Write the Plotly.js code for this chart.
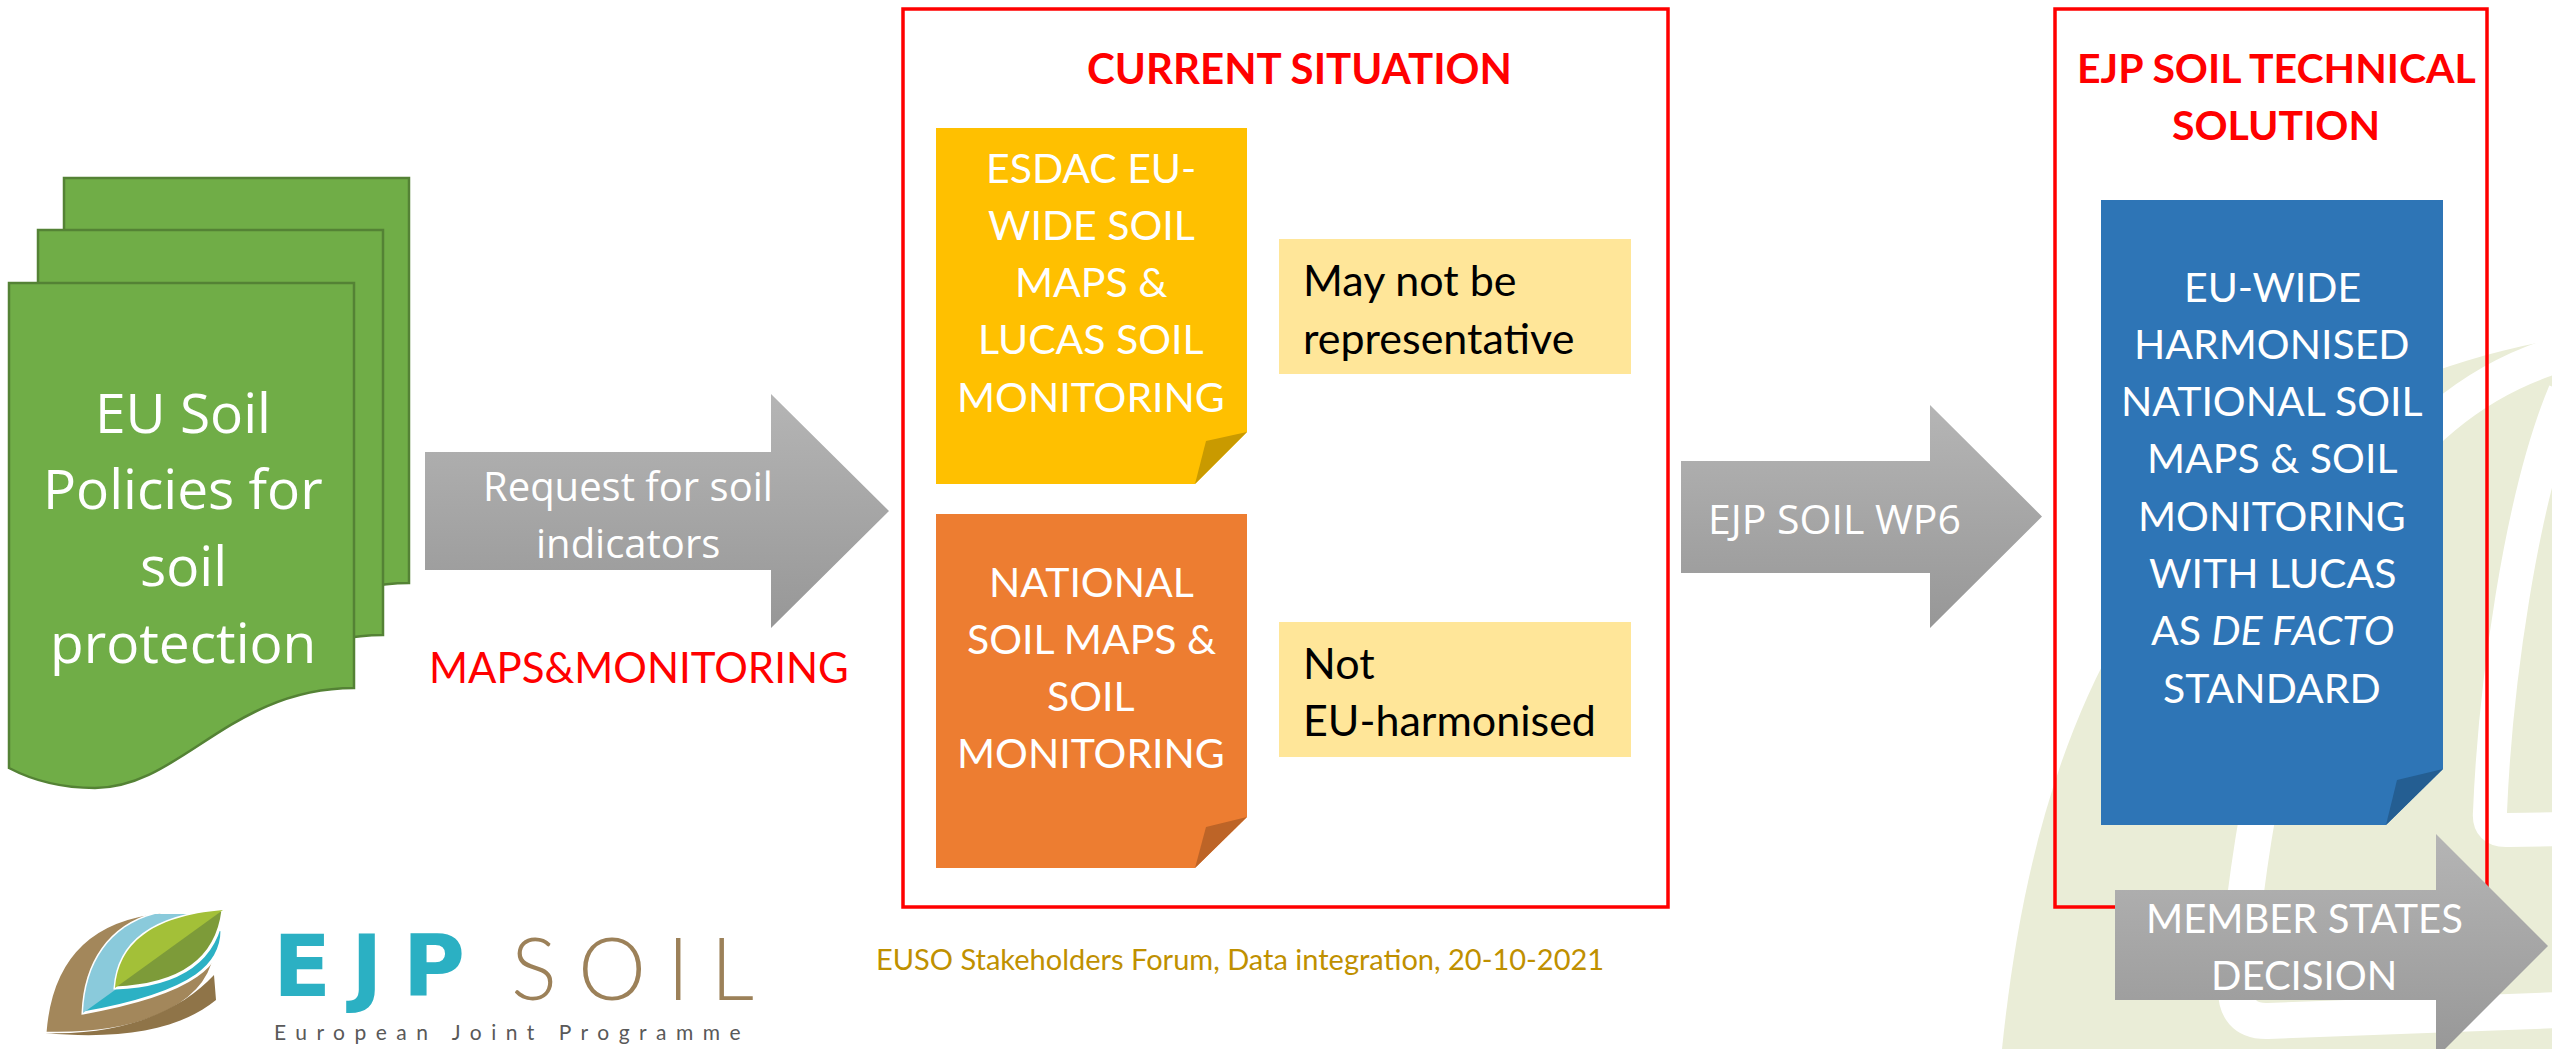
<!DOCTYPE html>
<html>
<head>
<meta charset="utf-8">
<script src="https://cdn.plot.ly/plotly-3.0.1.min.js"></script>
<style>
html,body{margin:0;padding:0;background:#ffffff;overflow:hidden;}
#chart{width:2552px;height:1049px;}
</style>
</head>
<body>
<div id="chart"></div>
<script>
// ---- Diagram texts ----
const docLines = ['EU Soil', 'Policies for', 'soil', 'protection'];
const requestLines = ['Request for soil', 'indicators'];
const mapsLabel = 'MAPS&MONITORING';
const currentTitle = 'CURRENT SITUATION';
const esdacLines = ['ESDAC EU-', 'WIDE SOIL', 'MAPS &', 'LUCAS SOIL', 'MONITORING'];
const nationalLines = ['NATIONAL', 'SOIL MAPS &', 'SOIL', 'MONITORING'];
const issue1Lines = ['May not be', 'representative'];
const issue2Lines = ['Not', 'EU-harmonised'];
const wp6Label = 'EJP SOIL WP6';
const techTitleLines = ['EJP SOIL TECHNICAL', 'SOLUTION'];
const solutionLines = ['EU-WIDE', 'HARMONISED', 'NATIONAL SOIL', 'MAPS &amp; SOIL', 'MONITORING', 'WITH LUCAS', 'AS <i>DE FACTO</i>', 'STANDARD'];
const decisionLines = ['MEMBER STATES', 'DECISION'];
const footerText = 'EUSO Stakeholders Forum, Data integration, 20-10-2021';
const logoWords = ['EJP', 'SOIL', 'European Joint Programme'];

// ---- helpers ----
const W = 2552, H = 1049;
const annotations = [];
function addLines(lines, x, y0, dy, font, xanchor, extraStyle) {
  lines.forEach((t, i) => {
    annotations.push({
      x: x, y: y0 + i * dy, xref: 'x', yref: 'y',
      text: extraStyle ? '<span style="' + extraStyle + '">' + t + '</span>' : t,
      showarrow: false, xanchor: xanchor || 'center', yanchor: 'middle',
      font: font, align: xanchor === 'left' ? 'left' : 'center'
    });
  });
}
function path(d, fill, line, lw) {
  return { type: 'path', xref: 'x', yref: 'y', path: d, fillcolor: fill,
           line: { color: line || 'rgba(0,0,0,0)', width: lw || 0 }, layer: 'below' };
}
function rect(x0, y0, x1, y1, fill, line, lw) {
  return { type: 'rect', xref: 'x', yref: 'y', x0: x0, y0: y0, x1: x1, y1: y1,
           fillcolor: fill, line: { color: line || 'rgba(0,0,0,0)', width: lw || 0 }, layer: 'below' };
}
function doc(dx, dy) {
  const X = v => v + dx, Y = v => v + dy;
  return 'M ' + X(9) + ',' + Y(283) + ' L ' + X(354) + ',' + Y(283) + ' L ' + X(354) + ',' + Y(688) +
    ' C ' + X(230) + ',' + Y(688) + ' ' + X(180) + ',' + Y(788) + ' ' + X(95) + ',' + Y(788) +
    ' C ' + X(60) + ',' + Y(788) + ' ' + X(30) + ',' + Y(779) + ' ' + X(9) + ',' + Y(768) + ' Z';
}
// block arrow outline: shaft x0..xh, shaft y top/bottom, head top/bottom, tip x
function arrowTrace(x0, xh, xt, sTop, sBot, hTop, hBot) {
  const yc = (hTop + hBot) / 2;
  return {
    type: 'scatter', mode: 'lines', hoverinfo: 'skip', showlegend: false,
    x: [x0, xh, xh, xt, xh, xh, x0, x0],
    y: [sTop, sTop, hTop, yc, hBot, sBot, sBot, sTop],
    line: { width: 0, color: 'rgba(0,0,0,0)' },
    fill: 'toself', fillcolor: '#a6a6a6',
    fillgradient: { type: 'vertical', start: hBot, stop: hTop,
                    colorscale: [[0, '#979797'], [1, '#b5b5b5']] }
  };
}

const shapes = [];
// background watermark (light olive leaf)
shapes.push(path('M 2002,1049 C 2030,780 2120,420 2552,340 L 2552,1049 Z', '#eaedd7'));
shapes.push({ type: 'path', xref: 'x', yref: 'y', layer: 'below', fillcolor: 'rgba(0,0,0,0)',
  path: 'M 2560,354 C 2340,420 2262,680 2236,985 Q 2234,1022 2268,1021 L 2560,1010',
  line: { color: '#ffffff', width: 36 } });
shapes.push({ type: 'path', xref: 'x', yref: 'y', layer: 'below', fillcolor: 'rgba(0,0,0,0)',
  path: 'M 2565,392 C 2520,500 2495,690 2490,812 Q 2488,831 2508,830 L 2565,829',
  line: { color: '#ffffff', width: 34 } });

// green stacked documents
shapes.push(path(doc(55, -105), '#70ad47', '#548235', 2.5));
shapes.push(path(doc(29, -53), '#70ad47', '#548235', 2.5));
shapes.push(path(doc(0, 0), '#70ad47', '#548235', 2.5));

// red frames
shapes.push(rect(903, 9, 1668, 907, 'rgba(0,0,0,0)', '#ff0000', 3.5));
shapes.push(rect(2055, 9, 2487, 907, 'rgba(0,0,0,0)', '#ff0000', 3.5));

// sticky notes
shapes.push(path('M 936,128 L 1247,128 L 1247,432 L 1195,484 L 936,484 Z', '#ffc000'));
shapes.push(path('M 1195,484 L 1206,441 L 1247,432 Z', '#c99a00'));
shapes.push(path('M 936,514 L 1247,514 L 1247,817 L 1195,868 L 936,868 Z', '#ed7d31'));
shapes.push(path('M 1195,868 L 1206,827 L 1247,817 Z', '#bd6427'));
shapes.push(path('M 2101,200 L 2443,200 L 2443,769 L 2386,825 L 2101,825 Z', '#2e75b6'));
shapes.push(path('M 2386,825 L 2397,780 L 2443,769 Z', '#245e92'));

// light yellow boxes
shapes.push(rect(1279, 239, 1631, 374, '#ffe699'));
shapes.push(rect(1279, 622, 1631, 757, '#ffe699'));

// logo leaf
shapes.push(path('M 45,1033 C 50,965 85,920 160,912 L 216,945 C 214,1000 150,1036 45,1033 Z', '#a3875b', '#ffffff', 3));
shapes.push(path('M 45,1033 C 120,1036 180,1012 214,975 L 216,1000 C 180,1030 120,1040 45,1033 Z', '#8f7448'));
shapes.push(path('M 83,1013 C 85,962 110,926 155,914 L 222,930 C 222,962 200,992 83,1013 Z', '#2cb1c4', '#ffffff', 3));
shapes.push(path('M 83,1013 C 85,962 110,926 155,914 L 200,914 L 115,990 Z', '#8acadb'));
shapes.push(path('M 115,988 C 118,945 150,916 223,910 C 218,952 190,985 115,988 Z', '#7d9b39', '#ffffff', 3));
shapes.push(path('M 115,988 C 118,945 150,916 223,910 Z', '#a3c038'));

// arrows (traces, drawn above the 'below' shapes such as the red frame)
const traces = [
  arrowTrace(425, 771, 889, 452, 570, 394, 628),
  arrowTrace(1681, 1930, 2042, 461, 573, 405, 628),
  arrowTrace(2115, 2436, 2548, 890, 1000, 834, 1058)
];

// ---- texts ----
const LATO = 'Lato, "Open Sans", sans-serif';
const OPEN = '"Open Sans", Lato, sans-serif';
addLines(docLines, 183, 411, 76.7, { family: OPEN, size: 55, color: '#ffffff' });
addLines(requestLines, 628, 485, 57, { family: OPEN, size: 40, color: '#ffffff' });
addLines([mapsLabel], 639, 667, 0, { family: LATO, size: 42, color: '#ff0000' });
addLines([currentTitle], 1299, 68, 0, { family: LATO, size: 42, color: '#ff0000', weight: 700 });
addLines(esdacLines, 1091, 167, 57.3, { family: LATO, size: 41, color: '#ffffff' });
addLines(nationalLines, 1091, 581, 57.3, { family: LATO, size: 41, color: '#ffffff' });
addLines(issue1Lines, 1301, 279, 58, { family: LATO, size: 43, color: '#000000' }, 'left');
addLines(issue2Lines, 1301, 662, 57, { family: LATO, size: 43, color: '#000000' }, 'left');
addLines([wp6Label], 1834, 518, 0, { family: OPEN, size: 41, color: '#ffffff' });
addLines(techTitleLines, 2276, 67, 57, { family: LATO, size: 41, color: '#ff0000', weight: 700 });
addLines(solutionLines, 2272, 286, 57.3, { family: LATO, size: 41, color: '#ffffff' });
addLines(decisionLines, 2304, 918, 57, { family: LATO, size: 40, color: '#ffffff' });
addLines([footerText], 1240, 958, 0, { family: LATO, size: 29, color: '#bf9000' });
addLines([logoWords[0]], 271, 966, 0, { family: '"DejaVu Sans", sans-serif', size: 85, color: '#2bb0c3', weight: 700 }, 'left', 'letter-spacing:20px');
addLines([logoWords[1]], 509, 966, 0, { family: LATO, size: 86, color: '#9c8159', weight: 300 }, 'left', 'letter-spacing:21px');
addLines([logoWords[2]], 272, 1031, 0, { family: LATO, size: 21, color: '#595959', weight: 400 }, 'left', 'letter-spacing:9.5px');

const layout = {
  width: W, height: H,
  margin: { l: 0, r: 0, t: 0, b: 0, pad: 0 },
  paper_bgcolor: '#ffffff', plot_bgcolor: '#ffffff',
  showlegend: false,
  xaxis: { range: [0, W], visible: false, fixedrange: true },
  yaxis: { range: [H, 0], visible: false, fixedrange: true },
  shapes: shapes,
  annotations: annotations
};
Plotly.newPlot('chart', traces, layout, { staticPlot: true, displayModeBar: false });
</script>
</body>
</html>
